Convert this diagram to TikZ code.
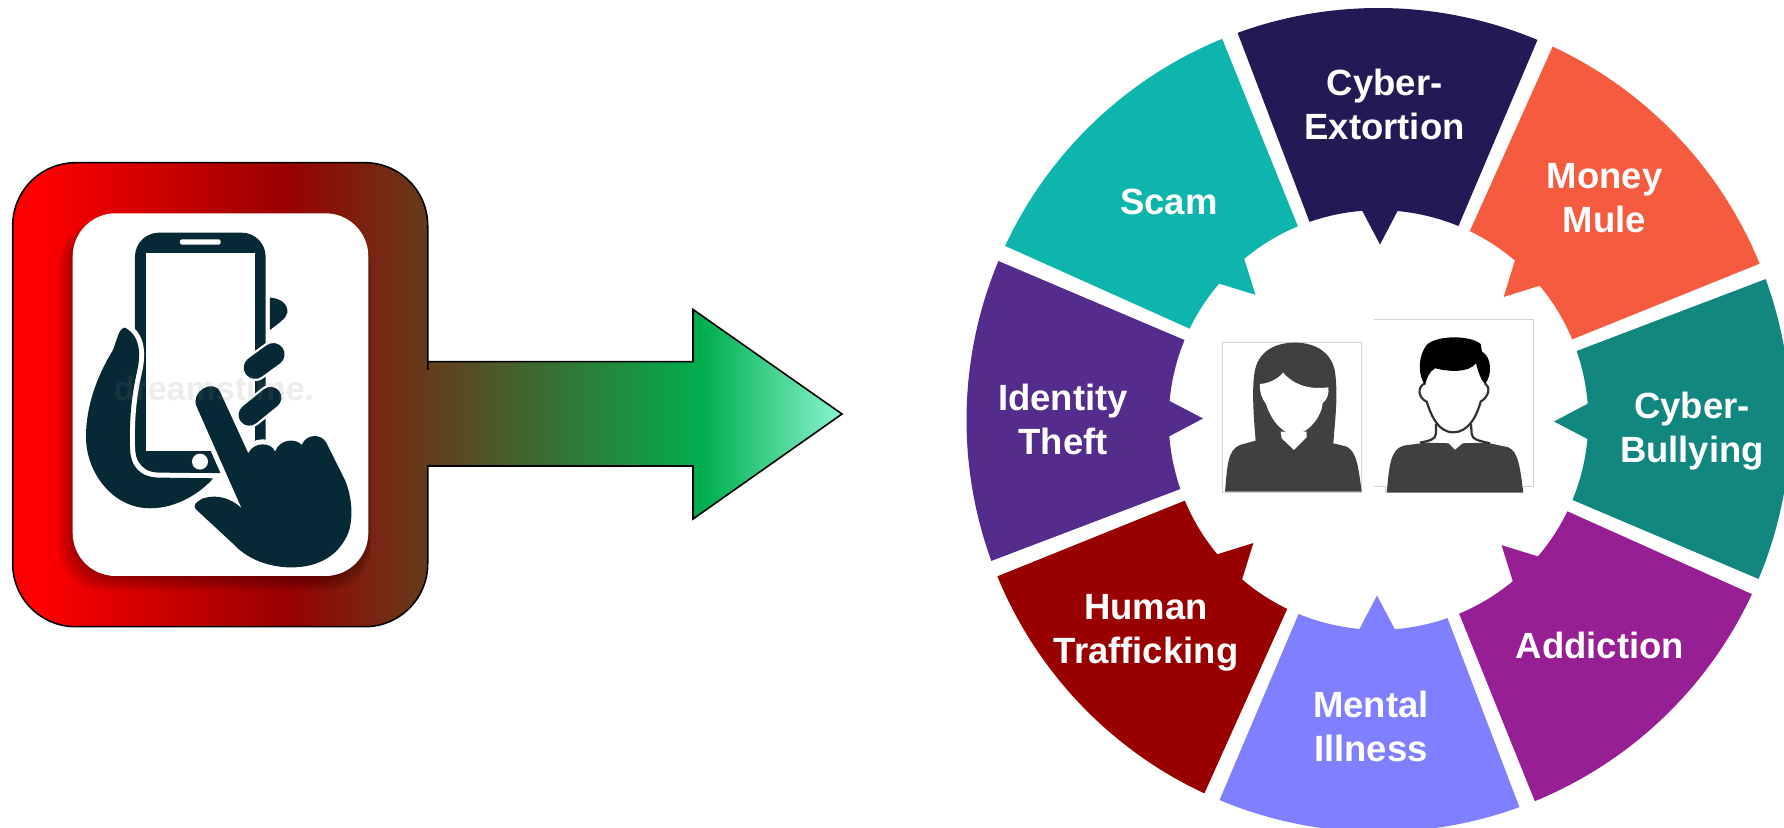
\documentclass[tikz,border=0pt]{standalone}
\usepackage{fontspec}
\setmainfont{Liberation Sans}
\usepackage{xcolor}
\usepackage{tikz}
\definecolor{cExtort}{HTML}{231A55}
\definecolor{cMule}{HTML}{F55C3F}
\definecolor{cBully}{HTML}{128780}
\definecolor{cAddict}{HTML}{962093}
\definecolor{cMental}{HTML}{7F7FFF}
\definecolor{cHuman}{HTML}{990000}
\definecolor{cTheft}{HTML}{542D8C}
\definecolor{cScam}{HTML}{0DB5AC}
\definecolor{cIcon}{HTML}{072835}
\definecolor{cGreen}{HTML}{00B050}
\definecolor{cAqua}{HTML}{8AF5D0}
\definecolor{cPerson}{HTML}{404040}
\definecolor{cFrame}{HTML}{D2D2D2}
\pgfdeclarehorizontalshading{fadegrad}{100bp}{color(0bp)=(red); color(26.6bp)=(red); color(41.4bp)=(cHuman); color(66.7bp)=(cGreen); color(75bp)=(cAqua); color(100bp)=(cAqua)}
\tikzset{
  % label styles
  wlabel/.style={align=center, text=white, font=\fontsize{36.5}{44}\selectfont\bfseries},
  mark text/.style={opacity=.14, text=gray, font=\fontsize{34}{40}\selectfont\bfseries},
  % icon styles
  zoomed/.style={x=0.3333pt, y=-0.3333pt},
  halo/.style={preaction={draw=white, line width=10pt}, fill=cIcon},
  capsule/.style={line cap=round},
  frame/.style={draw=cFrame, line width=.7pt},
  hairline/.style={draw=black!80, line width=2.2pt},
}

\begin{document}
\begin{tikzpicture}[x=1pt,y=1pt]
        \useasboundingbox (0,0) rectangle (1784,827);
        \clip (0,0) rectangle (1784,827);
        % box and arrow
        \shadedraw[shading=fadegrad, draw=black, line width=1.6pt]
            (12.7,420) [rounded corners=63pt] -- (12.7,664.3) -- (427.7,664.3) -- (427.7,520)
            [sharp corners] -- (427.7,465.3) -- (693,465.3) -- (693,517.5) -- (842,413)
            -- (693,308) -- (693,361) -- (427.7,361) -- (427.7,300)
            [rounded corners=63pt] -- (427.7,200.3) -- (12.7,200.3) -- cycle;
        % shadow
        \foreach \s in {0,...,9}{
            \fill[black, opacity=.035, rounded corners=44pt]
                ({73-1.6*\s},{250-1.6*\s}) rectangle ({368.3+.3*\s},{606});
        }
        \fill[white, rounded corners=43pt] (72.7,251) rectangle (368.3,613.7);
        % phone in hand
        \begin{scope}[shift={(0,687)},zoomed]
            \fill[cIcon, rounded corners=24pt] (405,278) rectangle (797,1000);
            \fill[white] (437,338) rectangle (765,932);
            \fill[white, rounded corners=2pt] (540,298) rectangle (662,314);
            \fill[white] (600,965) circle[radius=24];
            % fingers behind
            \fill[cIcon] (810,473) .. controls (845,475) and (865,495) .. (862,518)
                .. controls (860,535) and (835,550) .. (810,570) -- cycle;
            \draw[white, line width=27pt, capsule] (765,683) -- (820,643);
            \draw[cIcon, line width=22.5pt, capsule] (765,683) -- (820,643);
            \draw[white, line width=26pt, capsule] (748,825) -- (812,773);
            \draw[cIcon, line width=21.5pt, capsule] (748,825) -- (812,773);
            % left hand
            \path[halo] (375,563) .. controls (355,565) and (352,600) .. (338,632)
                .. controls (290,710) and (258,800) .. (258,890)
                .. controls (258,1000) and (340,1105) .. (450,1105)
                .. controls (530,1105) and (600,1060) .. (640,1015)
                -- (480,1013) .. controls (420,1013) and (390,980) .. (390,920)
                .. controls (388,830) and (395,770) .. (410,700)
                .. controls (422,650) and (425,590) .. (375,563) -- cycle;
            % pointing hand
            \path[halo] (590,800) .. controls (570,755) and (640,715) .. (660,755)
                -- (745,940) .. controls (760,905) and (815,905) .. (825,935)
                .. controls (840,895) and (890,895) .. (905,915)
                .. controls (920,880) and (965,880) .. (980,910)
                -- (1035,1020) .. controls (1060,1080) and (1060,1150) .. (1040,1190)
                .. controls (1000,1270) and (920,1285) .. (860,1282)
                .. controls (790,1278) and (735,1250) .. (700,1212)
                -- (590,1110) .. controls (575,1095) and (590,1085) .. (610,1075)
                .. controls (650,1062) and (695,1075) .. (725,1105) -- cycle;
            \node(Mark)[mark text] at (642,745) {dreamstime.};
        \end{scope}
        % wheel
        \foreach \col/\ang in {cExtort/0,cMule/-45,cBully/-90,cAddict/-135,cMental/-180,cHuman/-225,cTheft/-270,cScam/-315}{
            \fill[\col, shift={(1378.5,407)}, rotate=\ang]
                (110:412) arc[start angle=110, end angle=67.3, radius=412]
                -- (67.6:209.8) arc[start angle=67.6, end angle=84.8, radius=209.8]
                -- (1.5,175.5) -- (94.45:209.8)
                arc[start angle=94.45, end angle=109.2, radius=209.8] -- cycle;
        }
        % labels
        \node(Extort)[wlabel] at (1384.6,723) {Cyber-\\Extortion};
        \node(Mule)[wlabel] at (1604.5,629) {Money\\Mule};
        \node(Bully)[wlabel] at (1692,395.5) {Cyber-\\Bullying};
        \node(Addict)[wlabel] at (1600,182) {Addiction};
        \node(Mental)[wlabel] at (1371,100.5) {Mental\\Illness};
        \node(Human)[wlabel] at (1146,194) {Human\\Trafficking};
        \node(Theft)[wlabel] at (1063,408) {Identity\\Theft};
        \node(Scam)[wlabel] at (1169,625) {Scam};
        % persons
        \begin{scope}[shift={(1140,627)},zoomed]
            \draw[frame] (248,428) rectangle (665,877);
            \draw[frame] (702,358) -- (1181,358) -- (1181,860) -- (1150,860);
            \draw[frame] (702,858) -- (735,858) -- (735,878);
            % woman
            \fill[cPerson] (255,875) .. controls (262,800) and (262,750) .. (300,735)
                -- (347,722) .. controls (340,640) and (335,560) .. (345,510)
                .. controls (358,450) and (410,428) .. (465,428)
                .. controls (530,428) and (575,460) .. (585,515)
                .. controls (595,590) and (585,660) .. (580,730)
                -- (620,740) .. controls (650,755) and (655,800) .. (665,875) -- cycle;
            \fill[white] (430,518) .. controls (410,540) and (385,550) .. (360,552)
                .. controls (358,575) and (365,595) .. (378,612)
                .. controls (395,665) and (430,703) .. (465,703)
                .. controls (505,700) and (545,650) .. (548,610)
                .. controls (562,598) and (568,580) .. (565,562)
                .. controls (510,570) and (460,555) .. (430,518) -- cycle;
            \fill[white] (422,695) -- (425,715) -- (462,750) -- (500,712) -- (500,695) -- cycle;
            % man
            \fill[cPerson] (740,878) .. controls (748,800) and (750,750) .. (790,737)
                -- (860,728) -- (925,730) -- (945,750) -- (968,730) -- (1040,728)
                -- (1105,742) .. controls (1135,755) and (1140,800) .. (1150,878) -- cycle;
            \path[hairline, fill=none] (855,550) .. controls (830,560) and (835,595) .. (860,605)
                .. controls (875,650) and (895,697) .. (940,697)
                .. controls (985,697) and (1010,650) .. (1022,605)
                .. controls (1048,590) and (1052,560) .. (1035,550);
            \path[hairline, fill=none] (888,672) -- (888,700)
                .. controls (888,718) and (870,722) .. (840,728);
            \path[hairline, fill=none] (993,672) -- (995,700)
                .. controls (995,718) and (1015,722) .. (1050,730);
            \fill[black] (855,555) .. controls (835,530) and (832,470) .. (860,435)
                .. controls (890,405) and (990,405) .. (1022,432)
                -- (1026,455) .. controls (1055,470) and (1058,525) .. (1035,552)
                .. controls (1022,540) and (1015,515) .. (1008,490)
                .. controls (985,520) and (925,515) .. (885,505)
                .. controls (868,515) and (860,535) .. (855,555) -- cycle;
        \end{scope}
    \end{tikzpicture}
\end{document}
